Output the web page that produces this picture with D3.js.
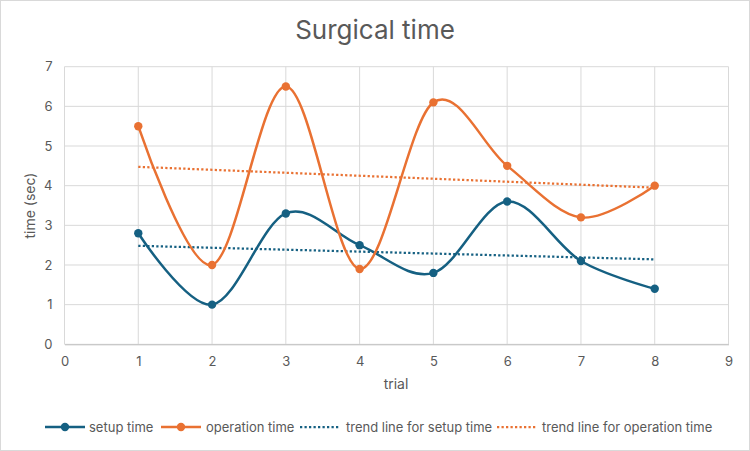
<!DOCTYPE html>
<html><head><meta charset="utf-8">
<script src="https://cdn.jsdelivr.net/npm/d3@7"></script>
<style>body{margin:0;background:#fff;}svg{display:block;font-family:Inter,"Open Sans",sans-serif;}</style>
</head><body>
<svg id="c" width="750" height="451"></svg>
<script>
const trials = [1,2,3,4,5,6,7,8];
const setupTime = [2.8,1.0,3.3,2.5,1.8,3.6,2.1,1.4];
const operationTime = [5.5,2.0,6.5,1.9,6.1,4.5,3.2,4.0];
const xTicks = [0,1,2,3,4,5,6,7,8,9];
const yTicks = [0,1,2,3,4,5,6,7];
const seriesNames = ["setup time","operation time","trend line for setup time","trend line for operation time"];
const colors = {setup:"#156082", op:"#E97132"};

const svg = d3.select("#c");
svg.append("rect").attr("x",0.5).attr("y",0.5).attr("width",749).attr("height",450)
  .attr("fill","#fff").attr("stroke","#d9d9d9");

const x = d3.scaleLinear().domain([0,9]).range([64.5,728.5]);
const y = d3.scaleLinear().domain([0,7]).range([344.3,66.7]);

// gridlines
svg.append("g").selectAll("line.h").data(yTicks).join("line")
  .attr("x1",x(0)).attr("x2",x(9)).attr("y1",d=>y(d)).attr("y2",d=>y(d))
  .attr("stroke","#d9d9d9").attr("stroke-width",1);
svg.append("g").selectAll("line.v").data(xTicks).join("line")
  .attr("y1",y(0)).attr("y2",y(7)).attr("x1",d=>x(d)).attr("x2",d=>x(d))
  .attr("stroke","#d9d9d9").attr("stroke-width",1);

// axes
const xa = svg.append("g").attr("transform",`translate(0,${y(0)})`)
  .call(d3.axisBottom(x).tickValues(xTicks).tickSize(0).tickPadding(12).tickFormat(d3.format("d")));
xa.select(".domain").attr("stroke","#bfbfbf");
const ya = svg.append("g").attr("transform",`translate(${x(0)},0)`)
  .call(d3.axisLeft(y).tickValues(yTicks).tickSize(0).tickPadding(12).tickFormat(d3.format("d")));
ya.select(".domain").remove();
svg.selectAll(".tick text").attr("fill","#595959").style("font-size","13px").style("font-family","Inter,'Open Sans',sans-serif");

// titles
svg.append("text").attr("x",375).attr("y",39).attr("text-anchor","middle")
  .attr("fill","#595959").style("font-size","26px").text("Surgical time");
svg.append("text").attr("x",396).attr("y",389).attr("text-anchor","middle")
  .attr("fill","#595959").style("font-size","14px").text("trial");
svg.append("text").attr("transform",`translate(35,${(y(0)+y(7))/2}) rotate(-90)`).attr("text-anchor","middle")
  .attr("fill","#595959").style("font-size","14px").text("time (sec)");

// trend lines (least squares)
function fit(xs, ys){
  const mx=d3.mean(xs), my=d3.mean(ys);
  const sxy=d3.sum(xs.map((v,i)=>(v-mx)*(ys[i]-my)));
  const sxx=d3.sum(xs.map(v=>(v-mx)*(v-mx)));
  const b=sxy/sxx, a=my-b*mx;
  return [[xs[0],a+b*xs[0]],[xs[xs.length-1],a+b*xs[xs.length-1]]];
}
const lineStraight = d3.line().x(d=>x(d[0])).y(d=>y(d[1]));
[[setupTime,colors.setup],[operationTime,colors.op]].forEach(([vals,col])=>{
  svg.append("path").attr("d",lineStraight(fit(trials,vals))).attr("fill","none")
    .attr("stroke",col).attr("stroke-width",2.25).attr("stroke-dasharray","2.25,2.25");
});

// smoothed series
const smooth = d3.line().x(d=>x(d[0])).y(d=>y(d[1])).curve(d3.curveCardinal.tension(0));
[[setupTime,colors.setup],[operationTime,colors.op]].forEach(([vals,col])=>{
  const pts = trials.map((t,i)=>[t,vals[i]]);
  svg.append("path").attr("d",smooth(pts)).attr("fill","none").attr("stroke",col).attr("stroke-width",2.5);
  svg.append("g").selectAll("circle").data(pts).join("circle")
    .attr("cx",d=>x(d[0])).attr("cy",d=>y(d[1])).attr("r",4.2).attr("fill",col);
});

// legend
const ly = 427;
const leg = [
  {name:seriesNames[0], col:colors.setup, type:"marker", x0:45, tx:89},
  {name:seriesNames[1], col:colors.op, type:"marker", x0:161, tx:206},
  {name:seriesNames[2], col:colors.setup, type:"dot", x0:300, tx:346},
  {name:seriesNames[3], col:colors.op, type:"dot", x0:497, tx:542}
];
leg.forEach(l=>{
  const g = svg.append("g");
  if(l.type==="marker"){
    g.append("line").attr("x1",l.x0).attr("x2",l.x0+40).attr("y1",ly).attr("y2",ly).attr("stroke",l.col).attr("stroke-width",2.5);
    g.append("circle").attr("cx",l.x0+20).attr("cy",ly).attr("r",4.2).attr("fill",l.col);
  } else {
    g.append("line").attr("x1",l.x0).attr("x2",l.x0+40).attr("y1",ly).attr("y2",ly).attr("stroke",l.col).attr("stroke-width",2.25).attr("stroke-dasharray","2.25,2.25");
  }
  g.append("text").attr("x",l.tx).attr("y",ly+4.5).attr("fill","#595959").style("font-size","13px").text(l.name);
});
</script>
</body></html>
